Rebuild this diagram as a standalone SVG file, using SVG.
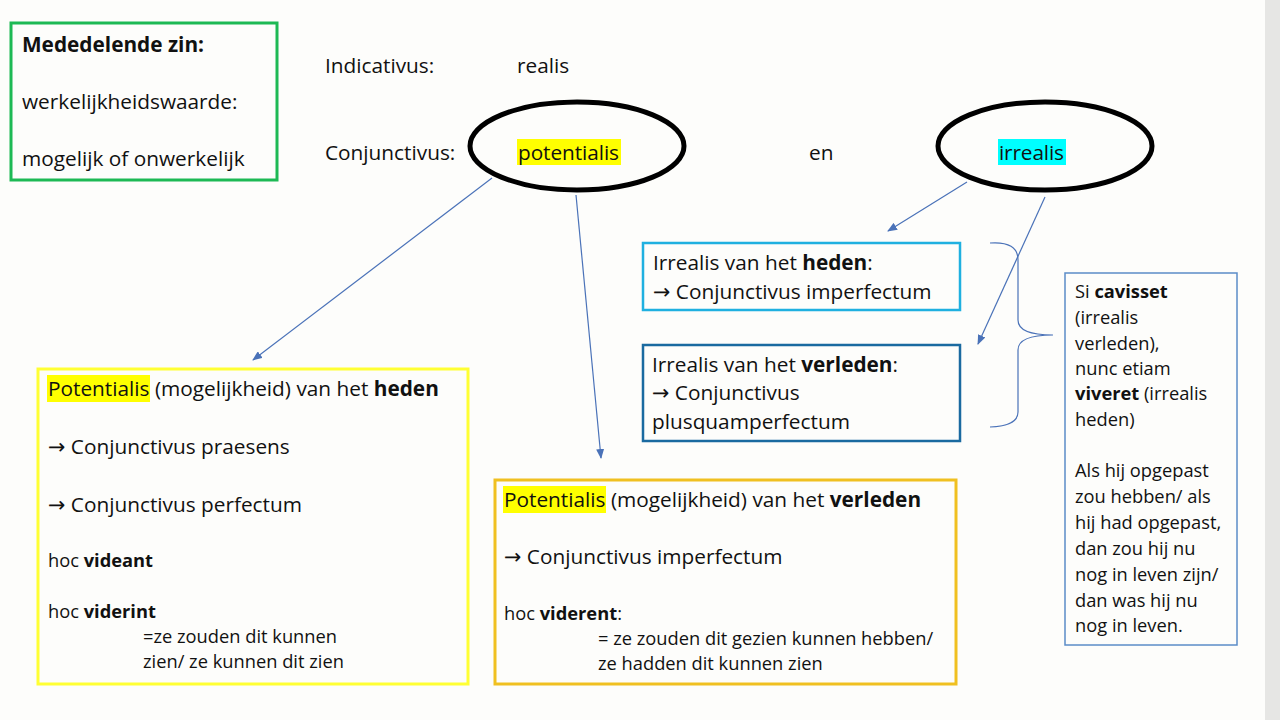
<svg xmlns="http://www.w3.org/2000/svg" width="1280" height="720" viewBox="0 0 1280 720">
<defs>
<style>
text{font-family:"Open Sans","Liberation Sans",sans-serif;fill:#111;font-size:20.8px}
.s{font-size:18.3px}
.b{font-weight:bold}
.a{font-family:"DejaVu Sans",sans-serif}
.c{stroke:#4a72b8;stroke-width:1.2;fill:none}
</style>
<marker id="ah" markerWidth="10" markerHeight="8" refX="9" refY="4" orient="auto" markerUnits="userSpaceOnUse"><path d="M0,0L10,4L0,8z" fill="#4a72b8"/></marker>
</defs>
<rect width="1280" height="720" fill="#fdfdfb"/>
<rect x="1265" y="0" width="15" height="720" fill="#e6e6e4"/>
<g id="mededelende">
<rect x="11" y="23" width="266" height="157" fill="none" stroke="#1db954" stroke-width="3"/>
<text x="22" y="52" class="b">Mededelende zin:</text>
<text x="22" y="109">werkelijkheidswaarde:</text>
<text x="22" y="166">mogelijk of onwerkelijk</text>
</g>
<g id="labels">
<text x="325" y="73">Indicativus:</text>
<text x="517" y="73">realis</text>
<text x="325" y="160">Conjunctivus:</text>
<text x="809" y="160">en</text>
</g>
<g id="potentialis-ellipse">
<ellipse cx="577" cy="146" rx="107" ry="44" fill="none" stroke="#000" stroke-width="5"/>
<rect x="517" y="139" width="104" height="26" fill="#ffff00"/>
<text x="518" y="160" textLength="101">potentialis</text>
</g>
<g id="irrealis-ellipse">
<ellipse cx="1045" cy="146" rx="107" ry="44" fill="none" stroke="#000" stroke-width="5"/>
<rect x="998" y="139" width="68" height="26" fill="#00ffff"/>
<text x="999" y="160" textLength="65">irrealis</text>
</g>
<g id="connectors">
<line class="c" x1="492" y1="178" x2="253" y2="360" marker-end="url(#ah)"/>
<line class="c" x1="576" y1="195" x2="601" y2="458" marker-end="url(#ah)"/>
<line class="c" x1="967" y1="182" x2="888" y2="231" marker-end="url(#ah)"/>
<line class="c" x1="1045" y1="197" x2="978" y2="344" marker-end="url(#ah)"/>
<path class="c" stroke-width="1.6" d="M990,243 Q1018,241 1018,260 L1018,320 Q1018,335 1053,335 Q1018,335 1018,350 L1018,412 Q1018,426 990,427"/>
</g>
<g id="irrealis-heden">
<rect x="643" y="243" width="317" height="67" fill="none" stroke="#1fb0e0" stroke-width="2.5"/>
<text x="653" y="270">Irrealis van het <tspan class="b">heden</tspan>:</text>
<text x="653" y="299"><tspan class="a">→</tspan> Conjunctivus imperfectum</text>
</g>
<g id="irrealis-verleden">
<rect x="643" y="345" width="317" height="96" fill="none" stroke="#1a6aa0" stroke-width="2.5"/>
<text x="652" y="372">Irrealis van het <tspan class="b">verleden</tspan>:</text>
<text x="652" y="400"><tspan class="a">→</tspan> Conjunctivus</text>
<text x="652" y="429">plusquamperfectum</text>
</g>
<g id="voorbeeld">
<rect x="1065" y="273" width="172" height="372" fill="none" stroke="#5b8cc8" stroke-width="1.5"/>
<text x="1075" y="298" class="s">Si <tspan class="b">cavisset</tspan></text>
<text x="1075" y="324" class="s">(irrealis</text>
<text x="1075" y="350" class="s">verleden),</text>
<text x="1075" y="375" class="s">nunc etiam</text>
<text x="1075" y="400" class="s"><tspan class="b">viveret</tspan> (irrealis</text>
<text x="1075" y="426" class="s">heden)</text>
<text x="1075" y="477" class="s">Als hij opgepast</text>
<text x="1075" y="503" class="s">zou hebben/ als</text>
<text x="1075" y="529" class="s">hij had opgepast,</text>
<text x="1075" y="555" class="s">dan zou hij nu</text>
<text x="1075" y="581" class="s">nog in leven zijn/</text>
<text x="1075" y="607" class="s">dan was hij nu</text>
<text x="1075" y="632" class="s">nog in leven.</text>
</g>
<g id="potentialis-heden">
<rect x="38" y="369" width="430" height="315" fill="none" stroke="#ffff33" stroke-width="3"/>
<rect x="47" y="375" width="103" height="27" fill="#ffff00"/>
<text x="48" y="396">Potentialis (mogelijkheid) van het <tspan class="b">heden</tspan></text>
<text x="48" y="454"><tspan class="a">→</tspan> Conjunctivus praesens</text>
<text x="48" y="512"><tspan class="a">→</tspan> Conjunctivus perfectum</text>
<text x="48" y="567" class="s">hoc <tspan class="b">videant</tspan></text>
<text x="48" y="618" class="s">hoc <tspan class="b">viderint</tspan></text>
<text x="143" y="643" class="s">=ze zouden dit kunnen</text>
<text x="143" y="668" class="s">zien/ ze kunnen dit zien</text>
</g>
<g id="potentialis-verleden">
<rect x="495" y="480" width="461" height="204" fill="none" stroke="#f0c020" stroke-width="3"/>
<rect x="503" y="486" width="103" height="27" fill="#ffff00"/>
<text x="504" y="507">Potentialis (mogelijkheid) van het <tspan class="b">verleden</tspan></text>
<text x="504" y="564"><tspan class="a">→</tspan> Conjunctivus imperfectum</text>
<text x="504" y="620" class="s">hoc <tspan class="b">viderent</tspan>:</text>
<text x="598" y="645" class="s">= ze zouden dit gezien kunnen hebben/</text>
<text x="598" y="670" class="s">ze hadden dit kunnen zien</text>
</g>
</svg>
